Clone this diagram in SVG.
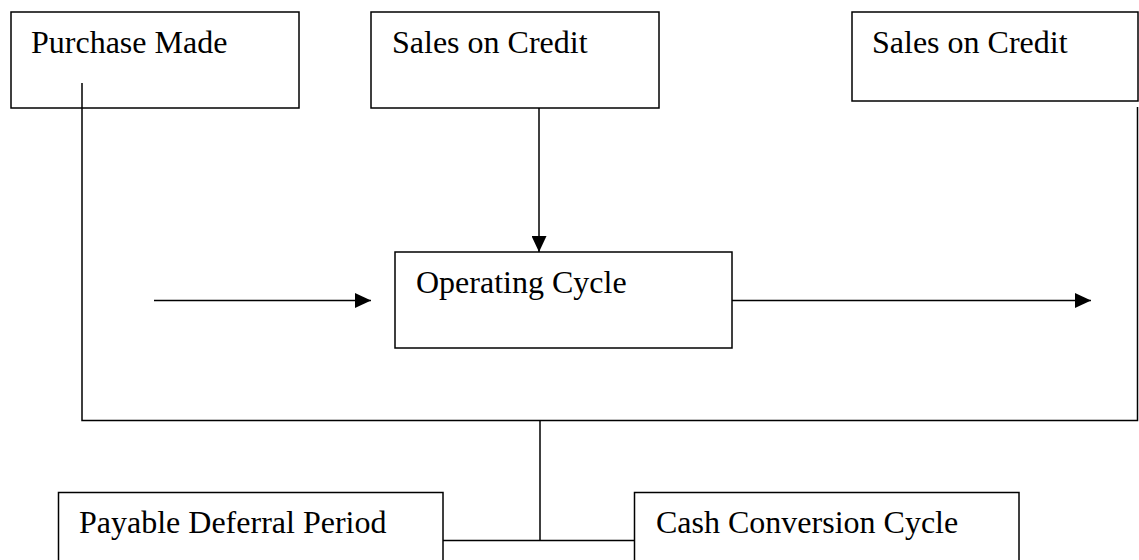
<svg xmlns="http://www.w3.org/2000/svg" width="1139" height="560" viewBox="0 0 1139 560">
<style>
.box{fill:#fff;stroke:#000;stroke-width:1.5}
.lbl{font-family:"Liberation Serif","Times New Roman",serif;font-size:32px;fill:#000}
.ln{fill:none;stroke:#000;stroke-width:1.5}
</style>
<defs>
<marker id="ah" markerWidth="16" markerHeight="15" refX="16" refY="7.5" orient="auto" markerUnits="userSpaceOnUse">
<path d="M0,0 L16,7.5 L0,15 Z" fill="#000"/>
</marker>
</defs>
<rect width="1139" height="560" fill="#fff"/>
<g id="purchase-made"><rect class="box" x="11" y="12" width="288" height="96"/><text class="lbl" x="31" y="53">Purchase Made</text></g>
<g id="sales-on-credit-1"><rect class="box" x="371" y="12" width="288" height="96"/><text class="lbl" x="392" y="53">Sales on Credit</text></g>
<g id="sales-on-credit-2"><rect class="box" x="852" y="12" width="286" height="89"/><text class="lbl" x="872" y="53">Sales on Credit</text></g>
<g id="operating-cycle"><rect class="box" x="395" y="252" width="337" height="96"/><text class="lbl" x="416" y="293">Operating Cycle</text></g>
<g id="payable-deferral"><rect class="box" x="58.5" y="492.5" width="384.5" height="90"/><text class="lbl" x="79" y="533">Payable Deferral Period</text></g>
<g id="cash-conversion"><rect class="box" x="634.5" y="492.5" width="384.5" height="90"/><text class="lbl" x="656" y="533">Cash Conversion Cycle</text></g>
<g id="connectors">
<line class="ln" x1="539" y1="108" x2="539" y2="252" marker-end="url(#ah)"/>
<line class="ln" x1="154" y1="300.5" x2="371" y2="300.5" marker-end="url(#ah)"/>
<line class="ln" x1="732" y1="300.5" x2="1091" y2="300.5" marker-end="url(#ah)"/>
<polyline class="ln" points="82,83 82,420.5 1137.5,420.5 1137.5,107"/>
<line class="ln" x1="540" y1="420.5" x2="540" y2="540.5"/>
<line class="ln" x1="443" y1="540.5" x2="634.5" y2="540.5"/>
</g>
</svg>
